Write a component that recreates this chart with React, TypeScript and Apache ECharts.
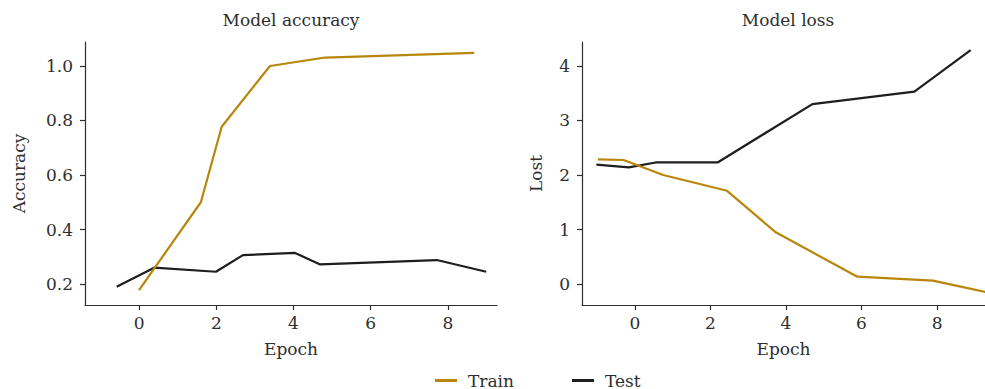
import React, { useEffect, useRef } from "react";
import * as echarts from "echarts";

const accTrainX = [0, 1.6, 2.14, 3.39, 4.82, 8.68];
const accTrainY = [0.178, 0.5, 0.777, 1.0, 1.031, 1.048];
const accTestX = [-0.58, 0.39, 1.99, 2.69, 4.04, 4.69, 7.71, 8.99];
const accTestY = [0.19, 0.26, 0.245, 0.306, 0.314, 0.272, 0.288, 0.245];
const lossTrainX = [-0.98, -0.3, 0.75, 2.44, 3.73, 5.89, 7.89, 9.3];
const lossTrainY = [2.288, 2.275, 2.0, 1.71, 0.948, 0.134, 0.061, -0.15];
const lossTestX = [-1.02, -0.16, 0.55, 2.19, 4.7, 7.4, 8.89];
const lossTestY = [2.19, 2.14, 2.23, 2.23, 3.3, 3.53, 4.29];

const xTicks = [0, 2, 4, 6, 8];
const accTicks = [0.2, 0.4, 0.6, 0.8, 1.0];
const lossTicks = [0, 1, 2, 3, 4];

const titles = ["Model accuracy", "Model loss"];
const yNames = ["Accuracy", "Lost"];
const xName = "Epoch";
const seriesNames = ["Train", "Test"];

const TRAIN = "#b8860b";
const TEST = "#1e1e1e";
const INK = "#2e2e2e";
const FONT = "DejaVu Serif";

const zip = (xs: number[], ys: number[]) => xs.map((x, i) => [x, ys[i]]);

export default function App() {
  const ref = useRef<HTMLDivElement>(null);
  useEffect(() => {
    if (!ref.current) return;
    const chart = echarts.init(ref.current, null, { renderer: "svg" });
    const xAxis = (gi: number) => ({
      type: "value",
      gridIndex: gi,
      min: -1.4,
      max: 9.27,
      name: xName,
      nameLocation: "middle",
      nameGap: 35,
      nameTextStyle: { fontFamily: FONT, fontSize: 17, color: INK },
      splitLine: { show: false },
      axisLine: { show: true, onZero: false, lineStyle: { color: INK, width: 1.2 } },
      axisTick: { show: true, length: 5, customValues: xTicks, lineStyle: { color: INK, width: 1.2 } },
      axisLabel: { customValues: xTicks, margin: 9, fontFamily: FONT, fontSize: 17, color: INK },
    });
    const yAxis = (gi: number, min: number, max: number, ticks: number[], name: string, gap: number, fmt: (v: number) => string) => ({
      type: "value",
      gridIndex: gi,
      min,
      max,
      name,
      nameLocation: "middle",
      nameGap: gap,
      nameTextStyle: { fontFamily: FONT, fontSize: 17, color: INK },
      splitLine: { show: false },
      axisLine: { show: true, onZero: false, lineStyle: { color: INK, width: 1.2 } },
      axisTick: { show: true, length: 5, customValues: ticks, lineStyle: { color: INK, width: 1.2 } },
      axisLabel: { customValues: ticks, margin: 12, fontFamily: FONT, fontSize: 17, color: INK, formatter: fmt },
    });
    const line = (name: string, color: string, xi: number, data: number[][]) => ({
      name,
      type: "line",
      xAxisIndex: xi,
      yAxisIndex: xi,
      data,
      showSymbol: false,
      symbol: "none",
      clip: true,
      lineStyle: { color, width: 2.2 },
      itemStyle: { color },
    });
    const legendText = { fontFamily: FONT, fontSize: 17, color: INK, padding: [0, 0, 0, 6] };
    chart.setOption({
      animation: false,
      backgroundColor: "#ffffff",
      title: [
        { text: titles[0], left: 291, top: 11, padding: 0, textAlign: "center", textStyle: { fontFamily: FONT, fontSize: 17, fontWeight: "normal", color: INK } },
        { text: titles[1], left: 788, top: 11, padding: 0, textAlign: "center", textStyle: { fontFamily: FONT, fontSize: 17, fontWeight: "normal", color: INK } },
      ],
      legend: [
        { data: [seriesNames[0]], left: 435, top: 372, padding: 0, icon: "rect", itemWidth: 22, itemHeight: 3, textStyle: legendText },
        { data: [seriesNames[1]], left: 572, top: 372, padding: 0, icon: "rect", itemWidth: 22, itemHeight: 3, textStyle: legendText },
      ],
      grid: [
        { left: 85, top: 42, width: 412, height: 263 },
        { left: 582, top: 42, width: 412, height: 263 },
      ],
      xAxis: [xAxis(0), xAxis(1)],
      yAxis: [
        yAxis(0, 0.123, 1.088, accTicks, yNames[0], 58, (v: number) => v.toFixed(1)),
        yAxis(1, -0.385, 4.44, lossTicks, yNames[1], 38, (v: number) => String(v)),
      ],
      series: [
        line(seriesNames[1], TEST, 0, zip(accTestX, accTestY)),
        line(seriesNames[0], TRAIN, 0, zip(accTrainX, accTrainY)),
        line(seriesNames[1], TEST, 1, zip(lossTestX, lossTestY)),
        line(seriesNames[0], TRAIN, 1, zip(lossTrainX, lossTrainY)),
      ],
    });
    return () => chart.dispose();
  }, []);
  return <div ref={ref} style={{ position: "fixed", left: 0, top: 0, width: 985, height: 389 }} />;
}
